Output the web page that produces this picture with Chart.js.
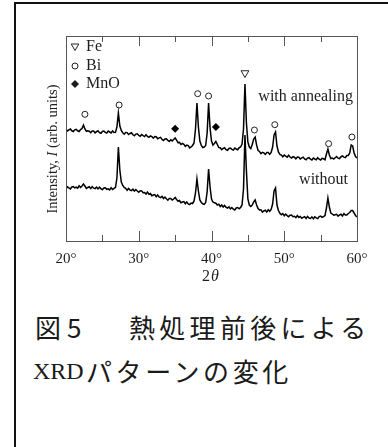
<!DOCTYPE html>
<html><head><meta charset="utf-8">
<script src="https://cdn.jsdelivr.net/npm/chart.js@4.4.1/dist/chart.umd.min.js"></script>
<style>
html,body{margin:0;padding:0;background:#fff;}
body{width:388px;height:447px;position:relative;overflow:hidden;}
#frame{position:absolute;left:14px;top:2px;width:420px;height:480px;border-left:2px solid #111;border-top:2px solid #111;}
#wrap{position:absolute;left:0;top:0;width:388px;height:300px;}
.cap{position:absolute;font-family:"Noto Sans CJK JP";font-size:26px;line-height:28px;color:#1a1a1a;white-space:nowrap;}
.ser{font-family:"Liberation Serif";font-size:24px;}
</style></head>
<body>
<div id="frame"></div>
<div id="wrap"><canvas id="c"></canvas></div>
<div class="cap" style="left:35px;top:313px">図</div>
<div class="cap" style="left:67px;top:313px">5</div>
<div class="cap" style="left:129px;top:313px;letter-spacing:4.3px">熱処理前後による</div>
<div class="cap ser" style="left:33px;top:357px">XRD</div>
<div class="cap" style="left:86px;top:357px;letter-spacing:3.6px">パターンの変化</div>
<script>
const twoTheta = [
20,20.2,20.4,20.6,20.8,21,21.2,21.4,21.6,21.8,
22,22.2,22.4,22.6,22.8,23,23.2,23.4,23.6,23.8,
24,24.2,24.4,24.6,24.8,25,25.2,25.4,25.6,25.8,
26,26.2,26.4,26.6,26.8,27,27.2,27.4,27.6,27.8,
28,28.2,28.4,28.6,28.8,29,29.2,29.4,29.6,29.8,
30,30.2,30.4,30.6,30.8,31,31.2,31.4,31.6,31.8,
32,32.2,32.4,32.6,32.8,33,33.2,33.4,33.6,33.8,
34,34.2,34.4,34.6,34.8,35,35.2,35.4,35.6,35.8,
36,36.2,36.4,36.6,36.8,37,37.2,37.4,37.6,37.8,
38,38.2,38.4,38.6,38.8,39,39.2,39.4,39.6,39.8,
40,40.2,40.4,40.6,40.8,41,41.2,41.4,41.6,41.8,
42,42.2,42.4,42.6,42.8,43,43.2,43.4,43.6,43.8,
44,44.2,44.4,44.6,44.8,45,45.2,45.4,45.6,45.8,
46,46.2,46.4,46.6,46.8,47,47.2,47.4,47.6,47.8,
48,48.2,48.4,48.6,48.8,49,49.2,49.4,49.6,49.8,
50,50.2,50.4,50.6,50.8,51,51.2,51.4,51.6,51.8,
52,52.2,52.4,52.6,52.8,53,53.2,53.4,53.6,53.8,
54,54.2,54.4,54.6,54.8,55,55.2,55.4,55.6,55.8,
56,56.2,56.4,56.6,56.8,57,57.2,57.4,57.6,57.8,
58,58.2,58.4,58.6,58.8,59,59.2,59.4,59.6,59.8,
60];
const annealed = [
111.8,110.0,111.2,112.0,110.2,109.5,111.2,111.6,110.2,109.5,
111.4,112.5,116,112.0,109.7,110.3,109.8,108.3,110.0,110.0,
108.1,109.3,110.2,108.4,107.7,109.5,110.0,108.6,107.9,109.9,
109.0,108.1,110.1,108.5,108.6,114,128,115,110.5,108.3,
106.8,108.5,108.4,106.5,107.5,108.2,106.2,105.3,106.9,107.2,
105.6,104.7,106.5,105.4,104.4,106.3,104.6,103.6,105.0,104.4,
102.8,104.4,104.2,102.2,103.1,103.7,101.6,100.6,102.1,102.3,
100.6,99.6,101.3,100.1,101.5,103,100.8,98.3,98.6,96.5,
97.6,96.6,94.6,95.9,95.4,93.1,94.1,95.5,98,112,
138,114,100,95.5,93.5,94.0,95.5,108,138,113,
100,96,97.5,99.5,96.5,93.5,93.2,91.4,92.5,93.3,
91.4,90.7,92.5,93.0,91.6,90.9,92.9,92.0,91.2,93.3,
94.0,97,112,157,118,99,94,92.5,96.5,102,
104,96,90.5,89.5,87.4,88.6,88.1,86.6,88.4,88.4,
86.6,88.5,94,106,109,95,89,86.5,85.9,84.2,
85.9,84.8,83.8,85.7,84.0,83.0,84.4,83.8,82.2,83.9,
83.8,82.0,83.1,83.9,82.0,81.2,82.9,83.3,81.8,81.0,
82.9,82.0,81.2,83.3,81.8,81.0,82.6,82.2,81.3,87,
92,86,82.5,83.0,81.9,83.3,84.4,82.8,82.3,84.3,
85.0,83.8,83.3,85.5,85.5,88,96,95,88,84.5,
83];
const without = [
52.3,54.2,53.0,52.1,54.0,54.4,53.1,53.8,52.8,55.2,
53.6,55.0,57,55.0,52.5,53.5,54.2,52.4,54.4,52.8,
52.4,53.9,52.1,53.8,52.4,51.3,53.0,53.2,51.7,52.2,
51.0,53.3,51.6,52.7,53.5,63,94,71,59,55.5,
53.5,52.6,50.7,52.6,50.9,50.4,51.8,49.9,51.5,50.0,
48.8,50.2,50.1,48.3,48.5,47.0,48.9,46.8,47.5,45.3,
46.0,46.4,44.3,46.0,44.1,43.4,44.6,42.5,43.9,42.2,
40.8,42.4,42.5,40.9,42.0,43.5,41.5,39.8,40.5,38.3,
39.0,39.4,37.3,39.0,37.1,36.4,38.0,37.5,40,48,
62,50,41,38.5,37.2,36.6,38.5,49,72,54,
42,39,38.2,37.8,36.0,36.8,34.5,36.0,33.9,35.6,
33.7,33.0,34.2,32.1,33.5,31.8,31.0,33.0,33.5,32.3,
33.5,36,52,106,70,42,36,34.5,36,39,
41,36,32.5,31.0,31.1,28.9,30.0,30.8,29.1,31.2,
29.7,31.5,37,50,53,36,30.5,27.8,26.2,27.4,
25.3,26.9,25.4,24.2,25.8,25.9,24.3,24.7,23.4,25.5,
23.6,24.6,22.7,23.7,24.4,22.6,24.6,23.0,22.6,24.1,
22.3,24.3,23.2,22.4,24.4,24.9,23.7,24.5,25.5,33,
43,34,28,27.0,25.8,26.3,26.7,24.9,26.0,26.8,
25.1,27.4,26.1,26.0,27.5,28.5,30.5,30.5,28,25.5,
24];
const biTheta = [22.6, 27.3, 38.1, 39.6, 45.9, 48.7, 56.1, 59.3];
const biLevel = [126.7, 136, 147.3, 145, 111, 116.3, 97.3, 104];
const mnoTheta = [35.0, 40.6];
const mnoLevel = [112.3, 114];
const feTheta = [44.6];
const feLevel = [168];
const xTickValues = [20, 25, 30, 35, 40, 45, 50, 55, 60];
const legendNames = ['Fe', 'Bi', 'MnO'];
const curveNames = ['with annealing', 'without'];
const xTitle = ['2', 'θ'];
const yTitle = ['Intensity, ', 'I', ' (arb. units)'];

const pts = (xs, ys) => xs.map((x, i) => ({x: x, y: ys[i]}));
const SERIF = '"Liberation Serif", "Times New Roman", serif';
const INK = '#1e1e1e';

const decor = {
  id: 'decor',
  afterDraw(chart) {
    const ctx = chart.ctx, ca = chart.chartArea, xs = chart.scales.x;
    ctx.save();
    ctx.strokeStyle = '#555'; ctx.lineWidth = 1;
    const L = Math.round(ca.left), T = Math.round(ca.top), R = Math.round(ca.right), B = Math.round(ca.bottom);
    ctx.strokeRect(L + 0.5, T + 0.5, R - L, B - T);
    ctx.beginPath();
    xTickValues.forEach(v => {
      const px = Math.round(xs.getPixelForValue(v)) + 0.5;
      const len = (v % 10 === 0) ? 10 : 6;
      ctx.moveTo(px, B); ctx.lineTo(px, B - len);
      ctx.moveTo(px, T); ctx.lineTo(px, T + len);
    });
    ctx.stroke();

    ctx.fillStyle = INK; ctx.strokeStyle = '#222'; ctx.lineWidth = 1;
    const lx = L + 9, rows = [T + 11, T + 30, T + 48];
    ctx.beginPath();
    ctx.moveTo(lx - 3.8, rows[0] - 3); ctx.lineTo(lx + 3.8, rows[0] - 3); ctx.lineTo(lx, rows[0] + 3.5); ctx.closePath();
    ctx.stroke();
    ctx.beginPath(); ctx.arc(lx, rows[1], 3, 0, Math.PI * 2); ctx.stroke();
    ctx.beginPath();
    ctx.moveTo(lx, rows[2] - 4); ctx.lineTo(lx + 4, rows[2]); ctx.lineTo(lx, rows[2] + 4); ctx.lineTo(lx - 4, rows[2]); ctx.closePath();
    ctx.fill();
    ctx.font = '16px ' + SERIF; ctx.textBaseline = 'middle'; ctx.textAlign = 'left';
    legendNames.forEach((n, i) => ctx.fillText(n, lx + 11, rows[i]));

    ctx.textAlign = 'right';
    ctx.fillText(curveNames[0], R - 4, chart.scales.y.getPixelForValue(144));
    ctx.fillText(curveNames[1], R - 9, chart.scales.y.getPixelForValue(61));

    ctx.textAlign = 'left';
    const f1 = '16px ' + SERIF, f2 = 'italic 16px ' + SERIF;
    ctx.font = f1; const w1 = ctx.measureText(xTitle[0]).width;
    ctx.font = f2; const w2 = ctx.measureText(xTitle[1]).width;
    let sx = (L + R) / 2 - 1 - (w1 + w2 + 1) / 2;
    const ty = B + 36;
    ctx.font = f1; ctx.fillText(xTitle[0], sx, ty);
    ctx.font = f2; ctx.fillText(xTitle[1], sx + w1 + 1, ty);

    ctx.translate(L - 13, (T + B) / 2 + 10.5);
    ctx.rotate(-Math.PI / 2);
    const fy = '14.5px ' + SERIF, fyi = 'italic 14.5px ' + SERIF;
    const widths = yTitle.map((s, i) => { ctx.font = (i === 1 ? fyi : fy); return ctx.measureText(s).width; });
    let px = -widths.reduce((a, b) => a + b, 0) / 2;
    yTitle.forEach((s, i) => { ctx.font = (i === 1 ? fyi : fy); ctx.fillText(s, px, 0); px += widths[i]; });
    ctx.restore();
  }
};

new Chart(document.getElementById('c'), {
  type: 'scatter',
  data: {
    datasets: [
      { label: 'with annealing', data: pts(twoTheta, annealed), showLine: true, borderColor: '#000', borderWidth: 1.5, pointRadius: 0, tension: 0 },
      { label: 'without', data: pts(twoTheta, without), showLine: true, borderColor: '#000', borderWidth: 1.5, pointRadius: 0, tension: 0 },
      { label: 'Bi', data: pts(biTheta, biLevel), pointStyle: 'circle', pointRadius: 3, backgroundColor: '#fff', borderColor: '#222', borderWidth: 1 },
      { label: 'MnO', data: pts(mnoTheta, mnoLevel), pointStyle: 'rectRot', pointRadius: 4, backgroundColor: '#000', borderColor: '#000', borderWidth: 0 },
      { label: 'Fe', data: pts(feTheta, feLevel), pointStyle: 'triangle', rotation: 180, pointRadius: 4.5, backgroundColor: '#fff', borderColor: '#222', borderWidth: 1 }
    ]
  },
  options: {
    responsive: true, maintainAspectRatio: false, animation: false, devicePixelRatio: 1,
    layout: { padding: { left: 66, right: 31, top: 36, bottom: 0 } },
    plugins: { legend: { display: false }, tooltip: { enabled: false } },
    scales: {
      x: {
        type: 'linear', min: 20, max: 60,
        grid: { display: false }, border: { display: false },
        ticks: { stepSize: 10, autoSkip: false, maxRotation: 0, padding: 1, color: INK,
          font: { family: SERIF, size: 15 }, callback: v => v + '°' },
        afterFit: s => { s.height = 59; }
      },
      y: { display: false, min: 0, max: 205 }
    }
  },
  plugins: [decor]
});
</script>
</body></html>
